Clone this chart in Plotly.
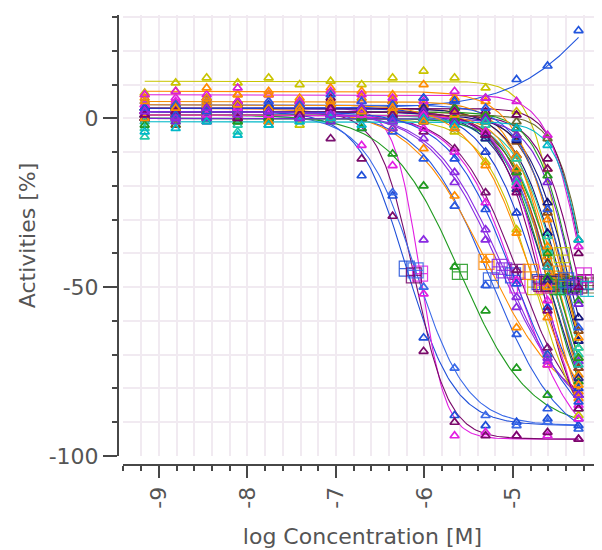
import numpy as np
import plotly.graph_objects as go

# ---------------- data ----------------
LOG_CONC = [-9.16, -8.81, -8.46, -8.11, -7.76, -7.41, -7.06, -6.71,
            -6.36, -6.01, -5.66, -5.31, -4.96, -4.61, -4.26]

SERIES_COLORS = [
    "#c9c400", "#2255dd", "#1f4fd8", "#e21ee2", "#7a0a6a", "#3a6ae8", "#1f9a1f",
    "#2a5ae0", "#ff8c00", "#8a2be2", "#7a1070", "#1f9a1f", "#22c9aa", "#ff8c00",
    "#12127a", "#8b4a13", "#800070", "#6b6b30", "#700060", "#c9c400", "#e21ee2",
    "#1a3fd0", "#8a2be2", "#f28a00", "#22c9aa", "#1f9a1f", "#12127a", "#e21ee2",
    "#8b4a13", "#1fb8a8", "#ff8c00", "#d81ed8", "#1f9a1f", "#22228a", "#2a5ae0",
    "#7b22d8", "#ff8c00", "#e21ee2", "#800070", "#00b8c8", "#2050e0", "#8a2be2",
    "#ff8c00",
]

# fitted 4-parameter logistic: activity at low conc, at high conc, logIC50, Hill slope
FIT_LOW = [11, 3, 2, 3, 2, 1, 1, 2, 3, 2, 1, 2, 1, 3, 3, 2, 1, 1, 3, 0, 2, 3, 2, 5,
           0, 2, 1, 1, 2, 1, 8, 7, 0, 2, 4, 0, 1, 1, 2, -1, 2, 2, 4]
FIT_HIGH = [-92, 60, -91, -95, -95, -91, -92, -98, -88, -90, -92, -100, -100, -100,
            -100, -100, -100, -100, -100, -100, -100, -100, -100, -100, -100, -100,
            -100, -100, -100, -100, -100, -100, -100, -100, -100, -100, -100, -100,
            -100, -100, -95, -92, -95]
FIT_LOGIC50 = [-4.45, -4.0, -6.2, -6.05, -6.12, -6.1, -5.6, -5.25, -5.3, -5.15, -4.95,
               -4.6, -4.5, -4.5, -4.45, -4.4, -4.25, -4.15, -4.18, -4.75, -4.55, -4.7,
               -4.55, -4.55, -4.45, -4.3, -4.35, -4.95, -4.55, -4.55, -4.45, -4.2, -4.5,
               -4.6, -4.4, -4.3, -4.6, -4.65, -4.68, -4.15, -5.0, -5.1, -4.8]
FIT_HILL = [2.5, 0.9, 1.6, 3.0, 2.2, 1.5, 1.1, 1.1, 1.0, 1.1, 1.3, 1.6, 1.6, 1.7, 1.6,
            1.8, 2.0, 2.5, 2.5, 1.5, 1.6, 1.4, 1.5, 1.8, 1.7, 2.0, 1.8, 1.3, 1.6, 1.5,
            1.7, 2.2, 1.6, 1.5, 1.7, 2.0, 2.0, 1.9, 1.8, 2.5, 1.2, 1.1, 1.3]

ACTIVITIES = [
    [7.5, 10.5, 12, 10.5, 12, 10, 11, 10, 12, 14, 12, 9, 2, -15, -68],
    [1, 3, 4, 2, 3, 2, 4, 3, 2, 3, 5.5, 6, 11.5, 15.5, 26],
    [0, 2, 3, 1, 4, 2, 3, -17, -23, -65, -88, -91, -90, -89, -91],
    [4, 5, 7, 3, 5, 4, 2, -8, -14, -52, -94, -93, -94, -94, -95],
    [1, 2, 3, 0, 2, 1, 3, -12, -29, -69, -90, -94, -94, -93, -95],
    [2, 1, 3, 2, 2, 0, 1, -3, -22, -50, -74, -88, -91, -90, -89],
    [0, 1, 2, -1, 1, 0, 2, -3, -10.5, -20, -44, -57, -74, -82, -86],
    [3, 2, 1, 4, 2, 3, 1, 0, -4, -12, -26, -49.5, -64, -86, -92],
    [2, 4, 3, 5, 2, 4, 3, 2, -3, -9, -23, -42, -62, -73, -81],
    [1, 3, 2, 0, 2, 1, 3, 0, -3, -36, -19, -36, -56, -72, -82],
    [0, 2, 1, 3, 1, 2, -6, 1, -1, -4, -9, -22, -45, -68, -82],
    [1, 0, 2, 1, 3, 0, 2, 1, 0, 1, -2, -5, -20, -47, -78],
    [-5.5, -2, 0, -4, -1, 1, 0, 2, 1, 0, 1, -4, -15, -39, -70],
    [2, 0, 4, 1, 3, 2, 4, 1, 3, 2, 0, -1, -12, -38, -71],
    [1, 3, 2, 4, 3, 5, 2, 3, 4, 6, 5, -1, -11, -34, -66],
    [0, -2, 1, 2, -1, 1, 0, 2, 1, -1, 3, 0, -7, -28, -63],
    [2, 1, 0, 3, 1, 2, 1, 0, 2, 1, 0, -4, -3, -15, -50],
    [0, 2, 1, -1, 2, 0, 1, 2, 0, 1, 2, 0, -1, -6, -36],
    [3, 4, 2, 5, 3, 4, 6, 3, 5, 4, 3, 2, 1, -12, -40],
    [1, -1, 2, 0, 1, -2, 0, 1, -1, 0, -4, -13, -33, -70, -88],
    [4, 6, 3, 5, 7, 4, 2, 5, 3, 2, -1, -4, -16, -44, -74],
    [2, 4, 5, 3, 4, 2, 5, 3, 2, 1, -3, -10, -28, -56, -80],
    [0, 2, 3, 1, 0, 2, 1, 3, 2, 0, -1, -5, -18, -44, -72],
    [6, 4, 5, 7, 3, 5, 4, 6, 5, 4, 2, 1, -11, -41, -76],
    [-3, -1, 0, -2, 1, -1, 0, 1, -1, 0, 1, -2, -12, -35, -68],
    [1, 3, 0, 2, 1, 3, 2, 0, 2, 1, 3, 1, -3, -17, -54],
    [0, 1, -1, 2, 0, 1, 3, 1, 0, 2, -1, 0, -6.5, -25, -59],
    [2, 0, 1, 3, 1, 2, 0, 1, -1, -3, -10, -25, -48, -73, -89],
    [1, 3, 2, 0, 2, 1, 3, 2, 1, 2, 0, -4, -16, -43, -74],
    [-1, 1, 0, 2, -2, 1, 0, 2, 1, 0, 1, -6, -19, -44, -73],
    [7, 8, 9, 7, 8, 6, 9, 8, 7, 10, 6, 5, -5, -30, -65],
    [7, 8, 6, 9, 7, 5, 8, 7, 6, 5, 8, 6, 5, -5, -38],
    [-2, 0, 1, -1, 0, 2, -1, 0, 1, -1, 0, -5, -16, -40, -71],
    [3, 1, 2, 4, 2, 3, 1, 2, 0, 3, 2, -6, -21, -48, -77],
    [5, 4, 6, 3, 5, 4, 7, 5, 4, 6, 5, 3, -6, -27, -62],
    [1, -1, 0, 2, 1, 0, -1, 1, 0, 2, -1, 0, -5, -19, -55],
    [0, 1, 2, 1, -1, 2, 0, 1, 2, 0, 1, -1, -15, -50, -83],
    [2, 0, 1, 3, 1, 0, 2, 1, 0, 1, 2, -4, -20, -54, -85],
    [1, 2, 3, 0, 2, 1, 3, 2, 1, 0, 2, -5, -22, -57, -86],
    [-4, -3, -1, -5, -2, -1, 0, -2, -1, 0, -2, -1, -3, -8, -36],
    [3, 1, 2, 4, 2, 3, 1, 2, 0, -1, -12, -27, -49, -70, -84],
    [2, 0, 3, 1, 2, 0, 1, 3, -1, -6, -16, -33, -53, -71, -82],
    [5, 3, 6, 4, 7, 3, 5, 2, 3, -1, -3, -14, -34, -59, -79],
]

THRESHOLD_ACTIVITY = -13          # marker on the activity axis
X_RANGE = [-9.405, -3.995]
Y_RANGE = [-100, 30.6]
X_TICKS = [-9, -8, -7, -6, -5, -4]
X_TICK_LABELS = ["-9", "-8", "-7", "-6", "-5", "-4"]
Y_TICKS = [-100, -50, 0]
Y_TICK_LABELS = ["-100", "-50", "0"]

# ---------------- figure ----------------
FONT = "DejaVu Sans, Verdana, sans-serif"
AXIS_COLOR = "#474747"
GRID_COLOR = "#f1eaf1"
TEXT_COLOR = "#555555"

fig = go.Figure()

x_fit = np.linspace(LOG_CONC[0], LOG_CONC[-1], 250)


def logistic(x, low, high, logic50, hill):
    return low + (high - low) / (1.0 + 10.0 ** ((logic50 - x) * hill))


# fitted curves
for i, col in enumerate(SERIES_COLORS):
    fig.add_trace(go.Scatter(
        x=x_fit,
        y=logistic(x_fit, FIT_LOW[i], FIT_HIGH[i], FIT_LOGIC50[i], FIT_HILL[i]),
        mode="lines", line=dict(color=col, width=1.1),
        hoverinfo="skip", showlegend=False))

# IC50 markers
for i, col in enumerate(SERIES_COLORS):
    if FIT_HIGH[i] > FIT_LOW[i]:
        continue
    fig.add_trace(go.Scatter(
        x=[FIT_LOGIC50[i]], y=[(FIT_LOW[i] + FIT_HIGH[i]) / 2.0],
        mode="markers",
        marker=dict(symbol="square-cross-open", size=15, color=col,
                    line=dict(color=col, width=1.2)),
        opacity=0.85, showlegend=False))

# measured points
for i, col in enumerate(SERIES_COLORS):
    fig.add_trace(go.Scatter(
        x=LOG_CONC, y=ACTIVITIES[i], mode="markers",
        marker=dict(symbol="triangle-up-open", size=8, color=col,
                    line=dict(color=col, width=1.7)),
        showlegend=False))

# threshold marker left of the activity axis
fig.add_trace(go.Scatter(
    x=[X_RANGE[0] - 0.19], y=[THRESHOLD_ACTIVITY], mode="markers",
    marker=dict(symbol="triangle-right", size=11, color="#8b0000"),
    cliponaxis=False, showlegend=False))

# the page adds an 8 px body margin, so the figure is 8 px smaller
W, H = 594, 542
ML, MR, MT, MB = 110, 0, 7, 85
plot_w = W - ML - MR
plot_h = H - MT - MB

fig.update_layout(
    width=W, height=H,
    margin=dict(l=ML, r=MR, t=MT, b=MB),
    paper_bgcolor="white", plot_bgcolor="white",
    font=dict(family=FONT, color=TEXT_COLOR, size=22),
    showlegend=False,
    xaxis=dict(
        domain=[5 / plot_w, 1], anchor="free", position=0,
        range=X_RANGE, tickmode="array", tickvals=X_TICKS, ticktext=X_TICK_LABELS,
        tickangle=-90, ticks="outside", ticklen=12, tickwidth=2, tickcolor=AXIS_COLOR,
        showline=True, linecolor=AXIS_COLOR, linewidth=2,
        showgrid=True, gridcolor=GRID_COLOR, gridwidth=1.5,
        zeroline=False, tickfont=dict(size=22, color=TEXT_COLOR),
        minor=dict(dtick=0.2, tick0=-9, ticks="outside", ticklen=5, tickwidth=2,
                   tickcolor=AXIS_COLOR, showgrid=True, gridcolor=GRID_COLOR,
                   gridwidth=1.5),
        title=dict(text="log Concentration [M]", font=dict(size=22, color=TEXT_COLOR),
                   standoff=20),
    ),
    yaxis=dict(
        domain=[9 / plot_h, 1], anchor="free", position=0,
        range=Y_RANGE, tickmode="array", tickvals=Y_TICKS, ticktext=Y_TICK_LABELS,
        ticks="outside", ticklen=14, tickwidth=2, tickcolor=AXIS_COLOR,
        showline=True, linecolor=AXIS_COLOR, linewidth=2,
        showgrid=True, gridcolor=GRID_COLOR, gridwidth=1.5,
        zeroline=False, tickfont=dict(size=22, color=TEXT_COLOR),
        minor=dict(dtick=10, tick0=0, ticks="outside", ticklen=5, tickwidth=2,
                   tickcolor=AXIS_COLOR, showgrid=True, gridcolor=GRID_COLOR,
                   gridwidth=1.5),
        title=dict(text="Activities [%]", font=dict(size=22, color=TEXT_COLOR),
                   standoff=6),
    ),
)

fig.write_html("out.html")
